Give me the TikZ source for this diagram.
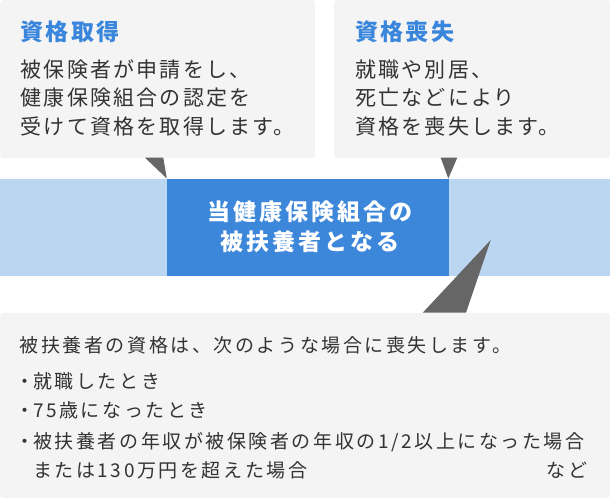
\documentclass[tikz,border=0pt]{standalone}
\usepackage{fontspec}
\setmainfont{Noto Sans CJK JP}[LetterSpace=12]
\newfontfamily\fbody{Noto Sans CJK JP}[LetterSpace=10.5]
\newfontfamily\fsmall{Noto Sans CJK JP}[LetterSpace=13.5]
\newfontfamily\ftitle{Noto Sans CJK JP}[LetterSpace=10]
\newfontfamily\fmain{Noto Sans CJK JP}[LetterSpace=13]
\definecolor{boxgray}{HTML}{F4F4F4}
\definecolor{tailgray}{HTML}{666666}
\definecolor{bandblue}{HTML}{BBD6F1}
\definecolor{mainblue}{HTML}{3D87DB}
\definecolor{titleblue}{HTML}{3A86DC}
\definecolor{txt}{HTML}{333333}
\tikzset{
  graybox/.style={fill=boxgray, draw=none, rounded corners=3pt, inner sep=0pt, anchor=north west},
  tail/.style={fill=tailgray, draw=none},
  title/.style={anchor=base west, inner sep=0pt, text=titleblue, font=\ftitle\fontsize{23}{27}\selectfont\bfseries},
  body/.style={anchor=base west, inner sep=0pt, text=txt, font=\fbody\fontsize{21}{25}\selectfont},
  small/.style={anchor=base west, inner sep=0pt, text=txt, font=\fsmall\fontsize{19}{23}\selectfont},
  center/.style={anchor=base, inner sep=0pt, text=white, font=\fmain\fontsize{23}{27}\selectfont\bfseries},
}
\begin{document}
\begin{tikzpicture}[x=1pt,y=-1pt]
\useasboundingbox (0,0) rectangle (610,499);
% boxes
\node[graybox, minimum width=315pt, minimum height=157.7pt] (lbox) at (0,0) {};
\node[graybox, minimum width=276pt, minimum height=157.7pt] (rbox) at (334,0) {};
\node[graybox, minimum width=610pt, minimum height=185pt] (bbox) at (0,312.7) {};
% band
\fill[bandblue] (0,178.5) rectangle (610,276);
\node[fill=mainblue, inner sep=0pt, minimum width=281.3pt, minimum height=97.5pt, anchor=north west] (main) at (167,178.5) {};
% tails
\fill[tail] (145,157.7) -- (163.3,157.7) -- (166.8,178.5) -- cycle;
\fill[tail] (440.7,157.7) -- (457.3,157.7) -- (448.3,178.5) -- cycle;
\fill[tail] (422.7,312.7) -- (466,312.7) -- (490.7,240) -- cycle;
% left box text
\node[title] (lt) at (20.5,40.4) {資格取得};
\node[body] (l1) at (20.5,77) {被保険者が申請をし、};
\node[body] (l2) at (20.5,105.5) {健康保険組合の認定を};
\node[body] (l3) at (20.5,134) {受けて資格を取得します。};
% right box text
\node[title] (rt) at (355,40.4) {資格喪失};
\node[body] (r1) at (355,77) {就職や別居、};
\node[body] (r2) at (355,105.5) {死亡などにより};
\node[body] (r3) at (355,134) {資格を喪失します。};
% main text
\node[center] (m1) at (310,220.7) {当健康保険組合の};
\node[center] (m2) at (310,250.4) {被扶養者となる};
% bottom text
\node[small] (b0) at (19.5,352.9) {被扶養者の資格は、次のような場合に喪失します。};
\node[small, anchor=base] (d1) at (24.5,388.3) {・};
\node[small] (b1) at (33,388.3) {就職したとき};
\node[small, anchor=base] (d2) at (24.5,417.3) {・};
\node[small] (b2) at (33,417.3) {75歳になったとき};
\node[small, anchor=base] (d3) at (24.5,448.3) {・};
\node[small] (b3) at (33,448.3) {被扶養者の年収が被保険者の年収の1/2以上になった場合};
\node[small] (b4) at (33,477.3) {または130万円を超えた場合};
\node[small, anchor=base east] (b5) at (587.6,477.3) {など};
\end{tikzpicture}
\end{document}
